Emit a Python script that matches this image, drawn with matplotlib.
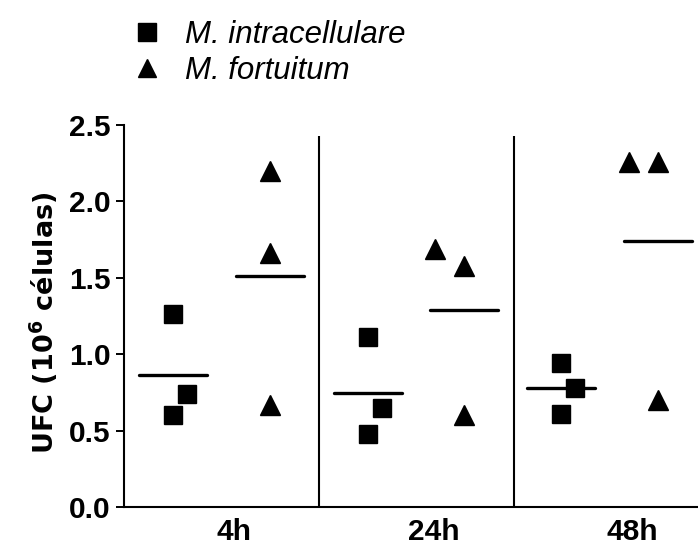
import numpy as np
import matplotlib
matplotlib.use("Agg")
import matplotlib.pyplot as plt

# ---- data ----
times = ["4h", "24h", "48h"]
intracellulare = [[1.26, 0.74, 0.60],
                  [1.11, 0.65, 0.48],
                  [0.94, 0.78, 0.61]]
fortuitum = [[2.20, 1.66, 0.67],
             [1.69, 1.58, 0.60],
             [2.26, 2.26, 0.70]]
yticks = [0.0, 0.5, 1.0, 1.5, 2.0, 2.5]
series_names = ["M. intracellulare", "M. fortuitum"]

plt.rcParams['font.family'] = ['Liberation Sans', 'DejaVu Sans']
plt.rcParams['mathtext.fontset'] = 'dejavusans'

fig = plt.figure(figsize=(6.98, 5.47), dpi=100)
ax = fig.add_axes([124/698, 40/547, 1 - 124/698, 382/547])

sq_centers = [0.25, 1.25, 2.24]
tri_centers = [0.75, 1.745, 2.74]
sq_jit = [[0, 0.074, 0], [0, 0.071, 0], [0, 0.075, 0]]
tri_jit = [[0, 0, 0], [-0.15, 0, 0], [-0.15, 0, 0]]
half = 0.175
ms = 13.5

handles = []
for g in range(3):
    xs = [sq_centers[g] + j for j in sq_jit[g]]
    h1, = ax.plot(xs, intracellulare[g], 's', color='black', ms=ms, ls='none')
    ax.plot([sq_centers[g] - half, sq_centers[g] + half],
            [np.mean(intracellulare[g])] * 2, color='black', lw=2.4,
            solid_capstyle='round')
    xt = [tri_centers[g] + j for j in tri_jit[g]]
    h2, = ax.plot(xt, fortuitum[g], '^', color='black', ms=ms + 0.5, ls='none')
    ax.plot([tri_centers[g] - half, tri_centers[g] + half],
            [np.mean(fortuitum[g])] * 2, color='black', lw=2.4,
            solid_capstyle='round')
    if g == 0:
        handles = [h1, h2]

# group dividers
ax.vlines([1, 2], 0, 2.43, color='black', lw=1.5)

ax.set_xlim(0, 574/195)
ax.set_ylim(0, 2.5)
ax.spines['top'].set_visible(False)
ax.spines['right'].set_visible(False)
ax.spines['left'].set_linewidth(1.5)
ax.spines['bottom'].set_linewidth(1.5)

ax.set_yticks(yticks)
ax.set_yticklabels([f"{v:.1f}" for v in yticks], fontsize=21.5, fontweight='bold')
ax.tick_params(axis='y', length=6, width=1.4, pad=3.5, direction='out')

ax.set_xticks([0.565, 1.59, 2.605])
ax.set_xticklabels(times, fontsize=21.5, fontweight='bold')
ax.tick_params(axis='x', length=0, pad=8)

ax.set_ylabel(r'UFC (10$^{\mathbf{6}}$ células)', fontsize=19.5, fontweight='bold',
              family='DejaVu Sans', va='center')
ax.yaxis.set_label_coords(-0.140, 0.482)

leg = ax.legend(handles=handles, labels=series_names, loc='upper left',
                bbox_to_anchor=(131/698, 1 - 20/547), bbox_transform=fig.transFigure,
                frameon=False, prop={'style': 'italic', 'size': 22.5},
                handlelength=1.0, handletextpad=0.73, labelspacing=0.2,
                borderpad=0, borderaxespad=0, markerscale=0.95)

fig.savefig("out.png", dpi=100)
